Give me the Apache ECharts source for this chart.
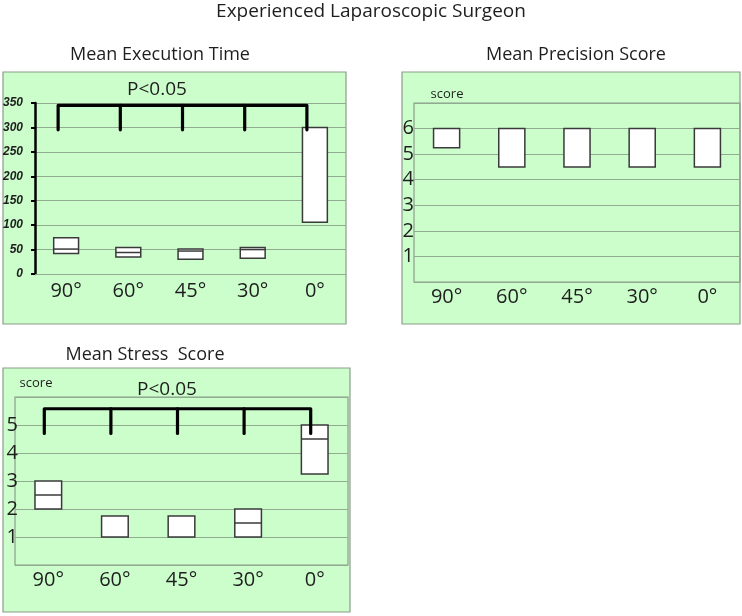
<!DOCTYPE html>
<html>
<head>
<meta charset="utf-8">
<script src="https://cdn.jsdelivr.net/npm/echarts@6/dist/echarts.min.js"></script>
<style>
html,body{margin:0;padding:0;background:#fff;}
#chart{width:742px;height:616px;}
</style>
</head>
<body>
<div id="chart"></div>
<script>
// ---- data ----
const categories = ['90°', '60°', '45°', '30°', '0°'];

const execLow    = [42, 35, 30, 32, 106];
const execMedian = [51, 44, 47, 50, null];
const execHigh   = [74, 54, 51, 54, 300];
const execTickLabels = [0, 50, 100, 150, 200, 250, 300, 350];
const execBracketTop = 345;
const execBracketBottom = 295;

const precLow    = [5.25, 4.5, 4.5, 4.5, 4.5];
const precMedian = [null, null, null, null, null];
const precHigh   = [6, 6, 6, 6, 6];
const precTickLabels = [1, 2, 3, 4, 5, 6];

const stressLow    = [2, 1, 1, 1, 3.25];
const stressMedian = [2.5, null, null, 1.5, 4.5];
const stressHigh   = [3, 1.75, 1.75, 2, 5];
const stressTickLabels = [1, 2, 3, 4, 5];
const stressBracketTop = 5.58;
const stressBracketBottom = 4.7;

const titles = {
  main: 'Experienced Laparoscopic Surgeon',
  exec: 'Mean Execution Time',
  prec: 'Mean Precision Score',
  stress: 'Mean Stress  Score'
};
const sigText = 'P<0.05';
const yName = 'score';

// ---- styles ----
const FONT = '"Open Sans", "Noto Sans", sans-serif';
const BG = '#ccfecc';
const GRID = '#91ab91';
const BORDER = '#8c9c8c';
const TEXT = '#1e1e1e';

function boxData(lo, hi, med) {
  return categories.map((c, i) => [i, lo[i], hi[i], med[i] == null ? '-' : med[i]]);
}

function boxRender(params, api) {
  const i = api.value(0);
  const lo = api.coord([i, api.value(1)]);
  const hi = api.coord([i, api.value(2)]);
  const w = api.size([1, 0])[0] * 0.4;
  const children = [{
    type: 'rect',
    shape: { x: lo[0] - w / 2, y: hi[1], width: w, height: lo[1] - hi[1] },
    style: { fill: '#ffffff', stroke: '#3a3a3a', lineWidth: 1.5 }
  }];
  const m = api.value(3);
  if (isFinite(m)) {
    const mp = api.coord([i, m]);
    children.push({
      type: 'line',
      shape: { x1: lo[0] - w / 2, y1: mp[1], x2: lo[0] + w / 2, y2: mp[1] },
      style: { stroke: '#3a3a3a', lineWidth: 1.5 }
    });
  }
  return { type: 'group', children };
}

function bracketRender(offset) {
  return function (params, api) {
    const i = api.value(0);
    const b = api.coord([i, api.value(1)]);
    const t = api.coord([i, api.value(2)]);
    const st = { stroke: '#000', lineWidth: 3.2, lineJoin: 'round', lineCap: 'round', fill: null };
    if (params.dataIndex === 0) {
      const last = categories.length - 1;
      const bl = api.coord([last, api.value(1)]);
      return {
        type: 'polyline',
        shape: { points: [[b[0] + offset, b[1]], [t[0] + offset, t[1]], [bl[0] + offset, t[1]], [bl[0] + offset, bl[1]]] },
        style: st
      };
    }
    if (params.dataIndex === categories.length - 1) return null;
    return {
      type: 'line',
      shape: { x1: b[0] + offset, y1: b[1], x2: t[0] + offset, y2: t[1] },
      style: st
    };
  };
}

function bracketData(bottom, top) {
  return categories.map((c, i) => [i, bottom, top]);
}

const catLabel = { fontSize: 20, color: TEXT, fontFamily: FONT, margin: 7 };

const chart = echarts.init(document.getElementById('chart'), null, { renderer: 'canvas' });

function txt(x, y, text, size) {
  return { type: 'text', x: x, y: y, style: { text: text, fill: TEXT, font: size + 'px ' + FONT, textAlign: 'center', textVerticalAlign: 'middle' } };
}

const option = {
  backgroundColor: '#ffffff',
  animation: false,
  graphic: [
    // panel backgrounds
    { type: 'rect', z: -10, shape: { x: 3, y: 72, width: 343, height: 252 }, style: { fill: BG, stroke: BORDER, lineWidth: 1.2 } },
    { type: 'rect', z: -10, shape: { x: 402, y: 72, width: 338, height: 252 }, style: { fill: BG, stroke: BORDER, lineWidth: 1.2 } },
    { type: 'rect', z: -10, shape: { x: 3, y: 368, width: 347, height: 244 }, style: { fill: BG, stroke: BORDER, lineWidth: 1.2 } },
    // titles
    txt(371, 12, titles.main, 19),
    txt(160, 55, titles.exec, 18),
    txt(576, 55, titles.prec, 18),
    txt(145, 355, titles.stress, 18),
    // significance labels
    txt(157, 90, sigText, 19),
    txt(167, 390, sigText, 19),
    // y names
    txt(447, 94, yName, 13),
    txt(36, 383, yName, 13)
  ],
  grid: [
    { left: 35, top: 103, width: 311, height: 171, show: false },
    { left: 414, top: 103, width: 326, height: 179, show: true, borderColor: BORDER, borderWidth: 1.2, backgroundColor: 'transparent' },
    { left: 15, top: 397, width: 333, height: 168, show: true, borderColor: BORDER, borderWidth: 1.2, backgroundColor: 'transparent' }
  ],
  xAxis: [
    { type: 'category', gridIndex: 0, data: categories, axisLine: { show: true, lineStyle: { color: GRID, width: 1.2 } }, axisTick: { show: false }, axisLabel: Object.assign({}, catLabel, { margin: 7 }) },
    { type: 'category', gridIndex: 1, data: categories, axisLine: { show: false }, axisTick: { show: false }, axisLabel: Object.assign({}, catLabel, { margin: 5 }) },
    { type: 'category', gridIndex: 2, data: categories, axisLine: { show: false }, axisTick: { show: false }, axisLabel: Object.assign({}, catLabel, { margin: 5 }) }
  ],
  yAxis: [
    {
      type: 'value', gridIndex: 0, min: 0, max: 350, interval: 50,
      axisLine: { show: true, lineStyle: { color: '#000', width: 2.5 } },
      axisTick: { show: true, length: 4, lineStyle: { color: '#000', width: 2 } },
      axisLabel: { fontSize: 12, fontStyle: 'italic', fontWeight: 'bold', fontFamily: '"Liberation Sans", Arial, sans-serif', color: TEXT, margin: 12,
        formatter: v => execTickLabels.includes(v) ? String(v) : '' },
      splitLine: { show: true, lineStyle: { color: GRID, width: 1.2 } }
    },
    {
      type: 'value', gridIndex: 1, min: 0, max: 7, interval: 1,
      axisLine: { show: false }, axisTick: { show: false },
      axisLabel: { fontSize: 20, fontFamily: FONT, color: TEXT, margin: 0,
        formatter: v => precTickLabels.includes(v) ? String(v) : '' },
      splitLine: { show: true, lineStyle: { color: GRID, width: 1.2 } }
    },
    {
      type: 'value', gridIndex: 2, min: 0, max: 6, interval: 1,
      axisLine: { show: false }, axisTick: { show: false },
      axisLabel: { fontSize: 20, fontFamily: FONT, color: TEXT, margin: -3,
        formatter: v => stressTickLabels.includes(v) ? String(v) : '' },
      splitLine: { show: true, lineStyle: { color: GRID, width: 1.2 } }
    }
  ],
  series: [
    { type: 'custom', xAxisIndex: 0, yAxisIndex: 0, renderItem: boxRender, data: boxData(execLow, execHigh, execMedian), z: 5 },
    { type: 'custom', xAxisIndex: 0, yAxisIndex: 0, renderItem: bracketRender(-8), data: bracketData(execBracketBottom, execBracketTop), z: 6 },
    { type: 'custom', xAxisIndex: 1, yAxisIndex: 1, renderItem: boxRender, data: boxData(precLow, precHigh, precMedian), z: 5 },
    { type: 'custom', xAxisIndex: 2, yAxisIndex: 2, renderItem: boxRender, data: boxData(stressLow, stressHigh, stressMedian), z: 5 },
    { type: 'custom', xAxisIndex: 2, yAxisIndex: 2, renderItem: bracketRender(-4), data: bracketData(stressBracketBottom, stressBracketTop), z: 6 }
  ]
};
chart.setOption(option);
</script>
</body>
</html>
